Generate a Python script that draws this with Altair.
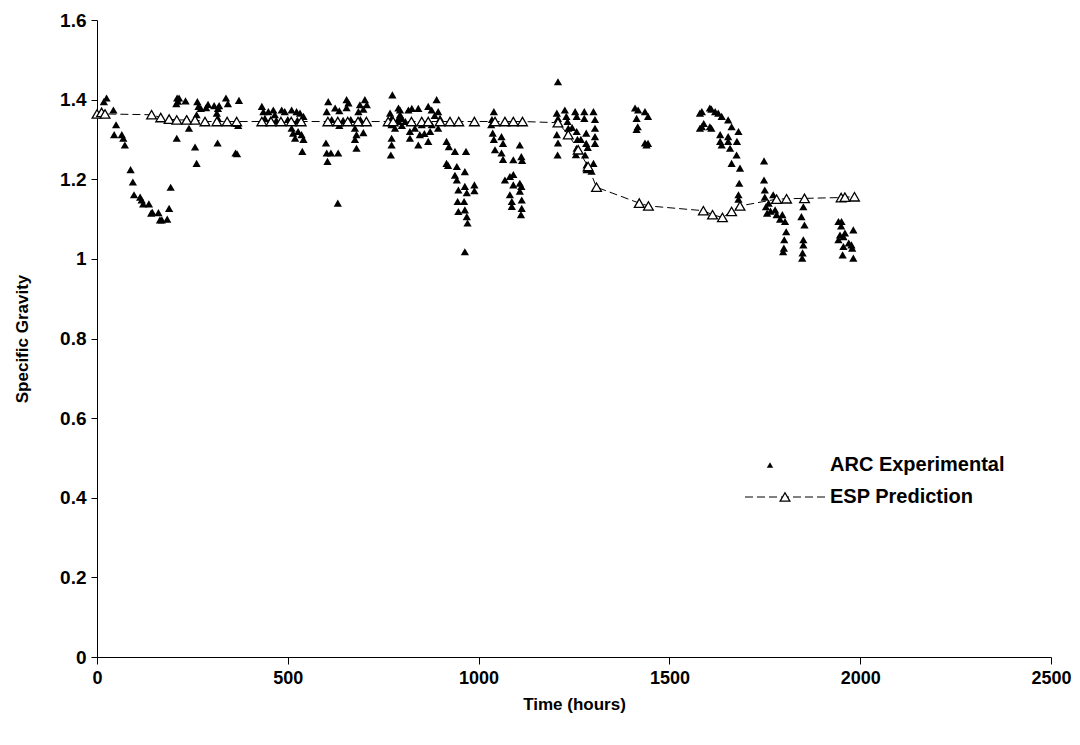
import altair as alt
import pandas as pd

# ---------------- data ----------------
esp_time = [0, 12, 21, 143, 167, 189, 209, 235, 257, 283, 314, 341, 366, 432, 456, 482, 509, 535,
            605, 631, 657, 684, 706, 763, 776, 824, 851, 868, 899, 925, 948, 989, 1043, 1069, 1091,
            1115, 1208, 1235, 1261, 1287, 1309, 1421, 1445, 1589, 1613, 1639, 1663, 1685, 1781, 1807,
            1854, 1950, 1960, 1985]
esp_sg = [1.364, 1.368, 1.364, 1.362, 1.355, 1.351, 1.349, 1.349, 1.349, 1.345, 1.345, 1.345, 1.345,
          1.345, 1.345, 1.345, 1.345, 1.345, 1.345, 1.345, 1.345, 1.345, 1.345, 1.345, 1.345, 1.345,
          1.345, 1.345, 1.345, 1.345, 1.345, 1.345, 1.345, 1.345, 1.345, 1.345, 1.342, 1.312, 1.274,
          1.232, 1.180, 1.140, 1.133, 1.121, 1.111, 1.104, 1.119, 1.133, 1.150, 1.151, 1.152, 1.154,
          1.155, 1.156]

arc_time = [
    18, 25, 43, 50, 45, 65, 69, 73, 88, 94, 97, 113, 117, 121, 136, 142, 145, 161, 165, 170, 184, 189,
    193, 209, 210, 212, 208, 215, 232, 235, 241, 257, 261, 261, 263, 266, 272, 286, 291, 307, 314, 317,
    320, 316, 317, 338, 343, 372, 363, 367, 366, 370,
    432, 436, 449, 462, 466, 484, 492, 510, 523, 532, 541, 510, 514, 519, 527, 536, 541, 538, 440, 455,
    470, 500, 525,
    600, 602, 604, 613, 632, 631, 606, 602, 624, 635, 654, 659, 654, 685, 689, 702, 707, 698, 676, 680,
    676, 680, 698, 635, 615, 645, 665, 690,
    774, 768, 772, 772, 772, 772, 770, 790, 794, 790, 781, 799,
    794, 790, 799, 816, 825, 842, 868, 877, 890, 894, 899, 820, 820, 842, 846, 851, 868, 873, 877, 894,
    833, 808, 858, 885,
    916, 922, 938, 967, 916, 920, 943, 964, 938, 943, 947, 964, 969, 989, 989, 945, 962, 947, 964, 969,
    971, 964,
    1040, 1035, 1033, 1037, 1040, 1043, 1060, 1064, 1060, 1064, 1091, 1108, 1112, 1114, 1069, 1082, 1091,
    1091, 1082, 1087, 1087, 1108, 1112, 1108, 1113, 1113, 1111,
    1208, 1205, 1208, 1205, 1208, 1207, 1226, 1230, 1233, 1235, 1253, 1257, 1257, 1259, 1257, 1255, 1277,
    1277, 1282, 1282, 1286, 1279, 1283, 1283, 1301, 1305, 1305, 1305, 1305, 1301, 1296, 1245, 1268,
    1410, 1418, 1436, 1444, 1414, 1417, 1414, 1436, 1440, 1444,
    1580, 1585, 1606, 1610, 1628, 1637, 1654, 1663, 1681, 1585, 1580, 1606, 1610, 1633, 1633, 1637, 1654,
    1654, 1659, 1677, 1676, 1663, 1685, 1683, 1681, 1681, 1590, 1620,
    1748, 1748, 1750, 1750, 1753, 1756, 1772, 1777, 1777, 1781, 1796, 1803, 1806, 1801, 1800, 1798, 1760,
    1765, 1790,
    1851, 1846, 1854, 1851, 1851, 1848, 1849,
    1951, 1943, 1950, 1947, 1943, 1956, 1956, 1954, 1982, 1977, 1979, 1982, 1970, 1960,
]
arc_sg = [
    1.395, 1.404, 1.374, 1.337, 1.312, 1.312, 1.303, 1.286, 1.224, 1.193, 1.161, 1.155, 1.148, 1.138,
    1.138, 1.115, 1.117, 1.116, 1.098, 1.098, 1.100, 1.127, 1.180, 1.303, 1.404, 1.396, 1.390, 1.404,
    1.397, 1.353, 1.328, 1.281, 1.240, 1.362, 1.395, 1.383, 1.378, 1.380, 1.388, 1.385, 1.366, 1.378,
    1.385, 1.291, 1.353, 1.404, 1.390, 1.398, 1.266, 1.264, 1.340, 1.335,
    1.383, 1.370, 1.370, 1.374, 1.362, 1.374, 1.370, 1.374, 1.370, 1.366, 1.358, 1.328, 1.316, 1.303,
    1.320, 1.312, 1.300, 1.270, 1.353, 1.350, 1.348, 1.350, 1.348,
    1.291, 1.266, 1.245, 1.266, 1.266, 1.140, 1.395, 1.370, 1.379, 1.372, 1.400, 1.392, 1.380, 1.370,
    1.387, 1.400, 1.387, 1.376, 1.328, 1.312, 1.300, 1.278, 1.317, 1.335, 1.350, 1.348, 1.350, 1.350,
    1.412, 1.366, 1.353, 1.337, 1.303, 1.286, 1.261, 1.379, 1.362, 1.345, 1.328, 1.353,
    1.374, 1.353, 1.335, 1.374, 1.378, 1.378, 1.383, 1.374, 1.400, 1.370, 1.353, 1.303, 1.320, 1.286,
    1.312, 1.337, 1.295, 1.320, 1.337, 1.328, 1.328, 1.345, 1.315, 1.360,
    1.295, 1.282, 1.270, 1.270, 1.240, 1.235, 1.232, 1.219, 1.210, 1.198, 1.173, 1.182, 1.166, 1.186,
    1.171, 1.144, 1.144, 1.119, 1.123, 1.106, 1.090, 1.018,
    1.370, 1.350, 1.337, 1.316, 1.300, 1.274, 1.307, 1.290, 1.266, 1.250, 1.249, 1.286, 1.257, 1.247,
    1.198, 1.207, 1.212, 1.186, 1.161, 1.144, 1.132, 1.190, 1.182, 1.170, 1.148, 1.127, 1.111,
    1.445, 1.366, 1.353, 1.312, 1.291, 1.261, 1.374, 1.358, 1.345, 1.328, 1.370, 1.358, 1.320, 1.300,
    1.278, 1.262, 1.370, 1.353, 1.316, 1.290, 1.280, 1.261, 1.236, 1.224, 1.370, 1.350, 1.328, 1.307,
    1.290, 1.240, 1.220, 1.330, 1.300,
    1.379, 1.374, 1.370, 1.358, 1.353, 1.332, 1.325, 1.291, 1.286, 1.290,
    1.366, 1.370, 1.379, 1.376, 1.366, 1.358, 1.349, 1.332, 1.320, 1.332, 1.328, 1.332, 1.328, 1.312,
    1.295, 1.286, 1.307, 1.295, 1.278, 1.295, 1.261, 1.240, 1.228, 1.190, 1.161, 1.150, 1.340, 1.370,
    1.246, 1.198, 1.173, 1.155, 1.131, 1.115, 1.161, 1.148, 1.123, 1.111, 1.111, 1.094, 1.068, 1.048,
    1.027, 1.018, 1.140, 1.120, 1.100,
    1.131, 1.106, 1.085, 1.048, 1.035, 1.002, 1.015,
    1.094, 1.094, 1.083, 1.060, 1.048, 1.056, 1.031, 1.010, 1.073, 1.035, 1.027, 1.002, 1.040, 1.065,
]

x_ticks = [0, 500, 1000, 1500, 2000, 2500]
y_ticks = [0, 0.2, 0.4, 0.6, 0.8, 1.0, 1.2, 1.4, 1.6]
legend_labels = ["ARC Experimental", "ESP Prediction"]

n = min(len(arc_time), len(arc_sg))
arc = pd.DataFrame({"t": arc_time[:n], "sg": arc_sg[:n]})
esp = pd.DataFrame({"t": esp_time, "sg": esp_sg})

FONT = "Liberation Sans"

xscale = alt.Scale(domain=[0, 2500], nice=False, zero=True)
yscale = alt.Scale(domain=[0, 1.6], nice=False, zero=True)

xaxis = alt.Axis(values=x_ticks, format="d", title="Time (hours)", grid=False,
                 labelFont=FONT, labelFontSize=18, labelFontWeight="bold", labelColor="#000",
                 titleFont=FONT, titleFontSize=17, titleFontWeight="bold", titleColor="#000",
                 tickSize=7, tickColor="#000", domainColor="#000", labelPadding=5, titlePadding=9,
                 labelFlush=False)
yaxis = alt.Axis(values=y_ticks, format="~g", title="Specific Gravity", grid=False,
                 labelFont=FONT, labelFontSize=19, labelFontWeight="bold", labelColor="#000",
                 titleFont=FONT, titleFontSize=17, titleFontWeight="bold", titleColor="#000",
                 tickSize=6, tickColor="#000", domainColor="#000", labelPadding=5, titlePadding=28,
                 labelFlush=False)

base_x = alt.X("t:Q", scale=xscale, axis=xaxis)
base_y = alt.Y("sg:Q", scale=yscale, axis=yaxis)

esp_line = alt.Chart(esp).mark_line(color="#000", strokeWidth=1, strokeDash=[8, 4]).encode(
    x=base_x, y=base_y)
esp_pts = alt.Chart(esp).mark_point(shape="triangle-up", filled=True, fill="white",
                                    stroke="#000", strokeWidth=1.3, size=95, opacity=1).encode(
    x=alt.X("t:Q", scale=xscale), y=alt.Y("sg:Q", scale=yscale))
arc_pts = alt.Chart(arc).mark_point(shape="triangle-up", filled=True, color="#000",
                                    size=68, opacity=1).encode(
    x=alt.X("t:Q", scale=xscale), y=alt.Y("sg:Q", scale=yscale))

# manual legend (inside plot area, bottom right)
leg1 = pd.DataFrame({"label": [legend_labels[0]]})
leg2 = pd.DataFrame({"label": [legend_labels[1]]})
leg_sym1 = alt.Chart(leg1).mark_point(shape="triangle-up", filled=True, color="#000", size=40,
                                      opacity=1).encode(x=alt.value(673), y=alt.value(445))
leg_txt1 = alt.Chart(leg1).mark_text(align="left", baseline="middle", font=FONT, fontSize=20,
                                     fontWeight="bold", color="#000").encode(
    x=alt.value(733), y=alt.value(445), text="label:N")
leg_line2 = alt.Chart(leg2).mark_rule(color="#000", strokeWidth=1, strokeDash=[8, 4]).encode(
    x=alt.value(648), x2=alt.value(728), y=alt.value(477))
leg_sym2 = alt.Chart(leg2).mark_point(shape="triangle-up", filled=True, fill="white", stroke="#000",
                                      strokeWidth=1.3, size=95, opacity=1).encode(
    x=alt.value(688), y=alt.value(477))
leg_txt2 = alt.Chart(leg2).mark_text(align="left", baseline="middle", font=FONT, fontSize=20,
                                     fontWeight="bold", color="#000").encode(
    x=alt.value(733), y=alt.value(477), text="label:N")

chart = alt.layer(esp_line, arc_pts, esp_pts, leg_sym1, leg_txt1, leg_line2, leg_sym2, leg_txt2).properties(
    width=954, height=637,
    padding={"left": 97, "top": 20, "right": 29, "bottom": 88},
    autosize=alt.AutoSizeParams(type="none"),
    background="white",
).configure_view(stroke=None)

chart.save("out.html", embed_options={"renderer": "svg", "actions": False})
